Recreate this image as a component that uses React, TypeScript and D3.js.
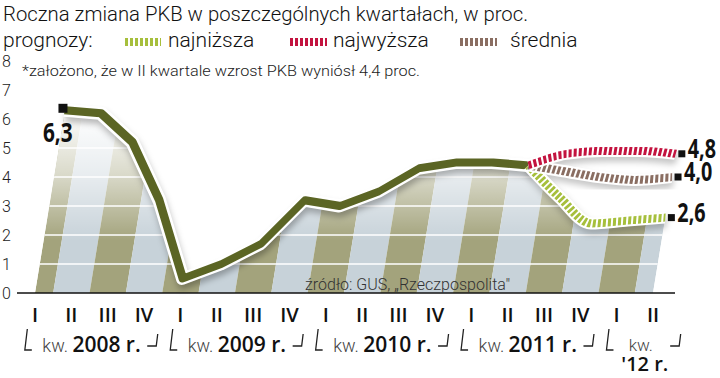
import React from "react";
import * as d3 from "d3";

const quarterLabels = ["I","II","III","IV","I","II","III","IV","I","II","III","IV","I","II","III","IV","I","II"];
const gdp = [6.3, 6.2, 5.2, 3.2, 0.5, 1.0, 1.7, 3.2, 3.0, 3.5, 4.3, 4.5, 4.5, 4.4];
const forecastStart = 13;
const lowest = [4.4, 3.3, 2.4, 2.5, 2.6];
const highest = [4.4, 4.8, 4.9, 4.9, 4.8];
const average = [4.4, 4.2, 4.0, 3.9, 4.0];
const yTicks = [0, 1, 2, 3, 4, 5, 6, 7, 8];
const gridValues = [1, 2, 3, 4, 5, 6, 7];
const years = [
  { label: "2008 r.", from: 0, to: 3 },
  { label: "2009 r.", from: 4, to: 7 },
  { label: "2010 r.", from: 8, to: 11 },
  { label: "2011 r.", from: 12, to: 15 },
];
const lastYear = { label: "'12 r.", from: 16, to: 17 };

const title = "Roczna zmiana PKB w poszczególnych kwartałach, w proc.";
const footnote = "*założono, że w II kwartale wzrost PKB wyniósł 4,4 proc.";
const source = "źródło: GUS, „Rzeczpospolita\"";

const OLIVE = "#5b6524";
const RED = "#c3133f";
const BROWN = "#8a6e62";
const LIME = "#a6bf3c";

export default function App() {
  const W = 720, H = 378;
  const x = d3.scaleLinear().domain([0, 17]).range([35, 653]);
  const y = d3.scaleLinear().domain([0, 8]).range([293, 61]);
  const step = x(1) - x(0);
  const y0 = y(0);
  const k = 0.164;
  const angle = -Math.atan(k) * 180 / Math.PI;
  const skew = `translate(0,${y0}) skewX(${angle}) translate(0,${-y0})`;
  const sx = (i: number, v: number) => x(i) + k * (y0 - y(v));

  const mainPts = gdp.map((v, i) => [i, v] as [number, number]);
  const fc = (arr: number[]) => arr.map((v, j) => [forecastStart + j, v] as [number, number]);
  const areaPts = [...mainPts, ...fc(lowest).slice(1)];

  const line = d3.line<[number, number]>().x(d => x(d[0])).y(d => y(d[1]));
  const fline = d3.line<[number, number]>().x(d => x(d[0])).y(d => y(d[1])).curve(d3.curveMonotoneX);
  const area = d3.area<[number, number]>().x(d => x(d[0])).y0(y0).y1(d => y(d[1]));

  const fmt = (v: number) => d3.format(".1f")(v).replace(".", ",");

  const series = [
    { data: lowest, color: LIME },
    { data: average, color: BROWN },
    { data: highest, color: RED },
  ];

  const lastIdx = 17;
  const endMarkers = series.map(s => {
    const v = s.data[s.data.length - 1];
    return { v, mx: sx(lastIdx, v) + 6, my: y(v) };
  });

  const lightFont = "Roboto, 'Open Sans', sans-serif";
  const boldFont = "'Open Sans', Lato, sans-serif";
  const condFont = "'Open Sans', sans-serif";

  const leftBracket = (bx: number) => `M${bx + 2.5},329 L${bx},350 L${bx + 7},350`;
  const rightBracket = (ex: number) => `M${ex - 9},346 L${ex},346 L${ex + 1.5},334`;

  return (
    <svg width={W} height={H} style={{ position: "absolute", left: 0, top: 0, background: "#fff" }}>
      <defs>
        <clipPath id="areaClip">
          <path d={area(areaPts) || ""} />
        </clipPath>
        <linearGradient id="fade" gradientUnits="userSpaceOnUse" x1="0" x2="0" y1={y(6.0)} y2={y(1.8)}>
          <stop offset="0" stopColor="#fff" stopOpacity="0.95" />
          <stop offset="0.45" stopColor="#fff" stopOpacity="0.6" />
          <stop offset="1" stopColor="#fff" stopOpacity="0" />
        </linearGradient>
        <filter id="blur" x="-10%" y="-30%" width="120%" height="160%">
          <feGaussianBlur stdDeviation="3" />
        </filter>
      </defs>

      <text x={3} y={21} fontFamily={lightFont} fontWeight={300} fontSize={21} fill="#111" textLength={525} lengthAdjust="spacingAndGlyphs">{title}</text>
      <text x={3} y={47} fontFamily={lightFont} fontWeight={300} fontSize={21} fill="#111">prognozy:</text>
      <line x1={125} x2={161} y1={42} y2={42} stroke={LIME} strokeWidth={8} strokeDasharray="3 2" />
      <text x={168} y={47} fontFamily={lightFont} fontWeight={300} fontSize={21} fill="#111">najniższa</text>
      <line x1={290} x2={327} y1={42} y2={42} stroke={RED} strokeWidth={8} strokeDasharray="3 2" />
      <text x={333} y={47} fontFamily={lightFont} fontWeight={300} fontSize={21} fill="#111">najwyższa</text>
      <line x1={460} x2={497} y1={42} y2={42} stroke={BROWN} strokeWidth={8} strokeDasharray="3 2" />
      <text x={510} y={47} fontFamily={lightFont} fontWeight={300} fontSize={21} fill="#111">średnia</text>
      <text x={22} y={76} fontFamily={lightFont} fontWeight={300} fontSize={15} fill="#222" textLength={398} lengthAdjust="spacingAndGlyphs">{footnote}</text>

      {yTicks.map(t => (
        <text key={t} x={2} y={y(t) + 6} fontFamily={lightFont} fontWeight={300} fontSize={16} fill="#222">{t}</text>
      ))}

      <g transform={skew}>
        <g clipPath="url(#areaClip)">
          {quarterLabels.map((q, i) => (
            <rect key={i} x={x(i) - step / 2} width={step} y={y(8)} height={y0 - y(8)} fill={i % 2 === 0 ? "#a3a37c" : "#c7d2d9"} />
          ))}
          <rect x={x(0) - step} width={x(17) - x(0) + 2 * step} y={y(8)} height={y0 - y(8)} fill="url(#fade)" />
          {gridValues.map(g => (
            <line key={g} x1={x(0) - step} x2={x(17) + step} y1={y(g)} y2={y(g)} stroke="#fff" strokeWidth={1.5} />
          ))}
        </g>

        <path d={line(mainPts) || ""} fill="none" stroke="#000" strokeOpacity={0.28} strokeWidth={12} transform="translate(2,5)" filter="url(#blur)" strokeLinejoin="round" />
        {series.map((s, si) => (
          <path key={"sh" + si} d={fline(fc(s.data)) || ""} fill="none" stroke="#000" strokeOpacity={0.22} strokeWidth={12} transform="translate(2,5)" filter="url(#blur)" />
        ))}
        <path d={line(mainPts) || ""} fill="none" stroke="#fff" strokeWidth={13} strokeLinejoin="round" />
        <path d={line(mainPts) || ""} fill="none" stroke={OLIVE} strokeWidth={8} strokeLinejoin="round" />
        {series.map((s, si) => (
          <g key={"fl" + si}>
            <path d={fline(fc(s.data)) || ""} fill="none" stroke="#fff" strokeWidth={12} />
            <path d={fline(fc(s.data)) || ""} fill="none" stroke={s.color} strokeWidth={8} strokeDasharray="3 2" />
          </g>
        ))}
      </g>

      <line x1={17} x2={675} y1={y0} y2={y0} stroke="#111" strokeWidth={1.5} />

      <text x={305} y={290} fontFamily={lightFont} fontWeight={300} fontSize={17} fill="#333" textLength={205} lengthAdjust="spacingAndGlyphs">{source}</text>

      <rect x={sx(0, gdp[0]) - 6.5} y={y(gdp[0]) - 6.5} width={9} height={9} fill="#111" />
      <g transform={`translate(${sx(0, gdp[0]) - 22},${y(gdp[0]) + 32}) scale(0.8,1)`}>
        <text x={0} y={0} fontFamily={condFont} fontWeight={700} fontSize={26} fill="#111">{fmt(gdp[0])}</text>
      </g>

      {endMarkers.map((m, i) => (
        <g key={"em" + i}>
          <rect x={m.mx - 3.5} y={m.my - 3.5} width={7} height={7} fill="#111" />
          <g transform={`translate(${m.mx + 6},${m.my + 4}) scale(0.76,1)`}>
            <text x={0} y={0} fontFamily={condFont} fontWeight={700} fontSize={26} fill="#111">{fmt(m.v)}</text>
          </g>
        </g>
      ))}

      {quarterLabels.map((q, i) => (
        <text key={"q" + i} x={x(i)} y={322} textAnchor="middle" fontFamily={boldFont} fontWeight={600} fontSize={20} fill="#111">{q}</text>
      ))}

      {years.map((g, i) => {
        const cx = (x(g.from) + x(g.to)) / 2;
        return (
          <g key={"y" + i}>
            <text x={cx + 2} y={352} textAnchor="middle" fill="#111">
              <tspan fontFamily={lightFont} fontWeight={300} fontSize={18} fill="#444">kw. </tspan>
              <tspan fontFamily={boldFont} fontWeight={600} fontSize={21}>{g.label}</tspan>
            </text>
            <path d={leftBracket(x(g.from) - step / 2 + 8)} fill="none" stroke="#222" strokeWidth={1.3} />
            <path d={rightBracket(x(g.to) + step / 2 - 6)} fill="none" stroke="#222" strokeWidth={1.3} />
          </g>
        );
      })}
      {(() => {
        const cx = (x(lastYear.from) + x(lastYear.to)) / 2;
        return (
          <g>
            <text x={cx + 6} y={351} textAnchor="middle" fontFamily={lightFont} fontWeight={300} fontSize={17} fill="#444">kw.</text>
            <text x={cx + 10} y={371} textAnchor="middle" fontFamily={boldFont} fontWeight={600} fontSize={20} fill="#111">{lastYear.label}</text>
            <path d={leftBracket(x(lastYear.from) - step / 2 + 8)} fill="none" stroke="#222" strokeWidth={1.3} />
            <path d={rightBracket(x(lastYear.to) + step / 2 + 8)} fill="none" stroke="#222" strokeWidth={1.3} />
          </g>
        );
      })()}
    </svg>
  );
}
